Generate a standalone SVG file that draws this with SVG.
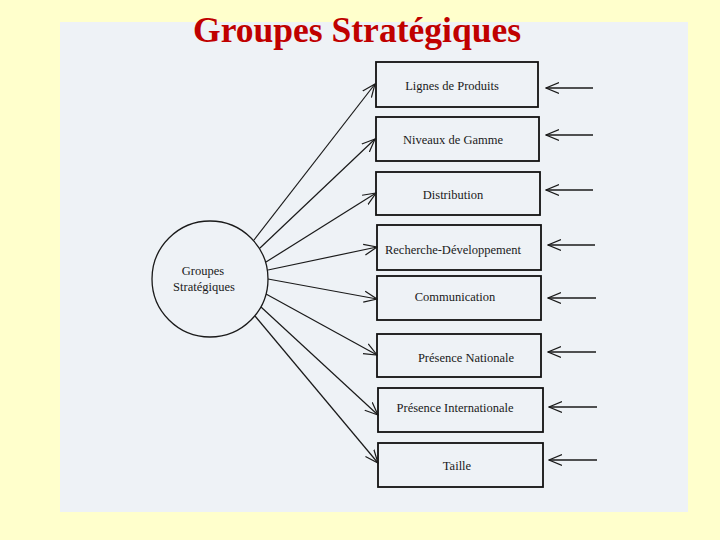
<svg xmlns="http://www.w3.org/2000/svg" width="720" height="540" viewBox="0 0 720 540">
<defs>
<style>
.box{fill:none;stroke:#111;stroke-width:1.8}
.lbl{font-family:"Liberation Serif","Times New Roman",serif;font-size:12.5px;fill:#1a1a1a;text-anchor:middle}
.con{stroke:#1a1a1a;stroke-width:1.2;fill:none}
.inp{stroke:#1a1a1a;stroke-width:1.4;fill:none}
.title{font-family:"Liberation Serif","Times New Roman",serif;font-size:35px;font-weight:bold;fill:#C00000}
</style>
<marker id="ah" viewBox="0 0 14 14" refX="13" refY="7" markerWidth="14" markerHeight="14" markerUnits="userSpaceOnUse" orient="auto">
<path d="M0,1.5 L13,7 L0,12.5" fill="none" stroke="#1a1a1a" stroke-width="1.2"/>
</marker>
</defs>
<rect x="0" y="0" width="720" height="540" fill="#FFFFCC"/>
<rect x="60" y="22" width="628" height="490" fill="#EEF2F6"/>
<text class="title" x="193" y="42" textLength="328" lengthAdjust="spacingAndGlyphs">Groupes Stratégiques</text>

<g id="groupes">
<circle cx="210" cy="279" r="58" fill="none" stroke="#1a1a1a" stroke-width="1.3"/>
<text class="lbl" x="203" y="275">Groupes</text>
<text class="lbl" x="204" y="291">Stratégiques</text>
</g>

<g id="lignes"><rect class="box" x="376" y="62" width="162" height="45"/><text class="lbl" x="452" y="90">Lignes de Produits</text></g>
<g id="niveaux"><rect class="box" x="376" y="117" width="163" height="44"/><text class="lbl" x="453" y="144">Niveaux de Gamme</text></g>
<g id="distribution"><rect class="box" x="376" y="172" width="164" height="43"/><text class="lbl" x="453" y="199">Distribution</text></g>
<g id="rd"><rect class="box" x="377" y="225" width="164" height="45"/><text class="lbl" x="453" y="254">Recherche-Développement</text></g>
<g id="communication"><rect class="box" x="377" y="276" width="164" height="44"/><text class="lbl" x="455" y="301">Communication</text></g>
<g id="nationale"><rect class="box" x="377" y="334" width="164" height="43"/><text class="lbl" x="466" y="362">Présence Nationale</text></g>
<g id="internationale"><rect class="box" x="378" y="388" width="165" height="44"/><text class="lbl" x="455" y="412">Présence Internationale</text></g>
<g id="taille"><rect class="box" x="378" y="443" width="165" height="44"/><text class="lbl" x="457" y="470">Taille</text></g>

<g id="connectors">
<line class="con" x1="254" y1="240" x2="375" y2="84" marker-end="url(#ah)"/>
<line class="con" x1="260" y1="248" x2="375" y2="139" marker-end="url(#ah)"/>
<line class="con" x1="266" y1="262" x2="376" y2="193" marker-end="url(#ah)"/>
<line class="con" x1="268" y1="270" x2="377" y2="247" marker-end="url(#ah)"/>
<line class="con" x1="268" y1="279" x2="377" y2="299" marker-end="url(#ah)"/>
<line class="con" x1="266" y1="294" x2="377" y2="355" marker-end="url(#ah)"/>
<line class="con" x1="261" y1="307" x2="378" y2="415" marker-end="url(#ah)"/>
<line class="con" x1="255" y1="316" x2="378" y2="463" marker-end="url(#ah)"/>
<line class="inp" x1="593" y1="88" x2="546" y2="88" marker-end="url(#ah)"/>
<line class="inp" x1="593" y1="135" x2="546" y2="135" marker-end="url(#ah)"/>
<line class="inp" x1="593" y1="190" x2="546" y2="190" marker-end="url(#ah)"/>
<line class="inp" x1="595" y1="245" x2="548" y2="245" marker-end="url(#ah)"/>
<line class="inp" x1="596" y1="298" x2="548" y2="298" marker-end="url(#ah)"/>
<line class="inp" x1="596" y1="352" x2="548" y2="352" marker-end="url(#ah)"/>
<line class="inp" x1="597" y1="407" x2="549" y2="407" marker-end="url(#ah)"/>
<line class="inp" x1="597" y1="460" x2="549" y2="460" marker-end="url(#ah)"/>
</g>
</svg>
